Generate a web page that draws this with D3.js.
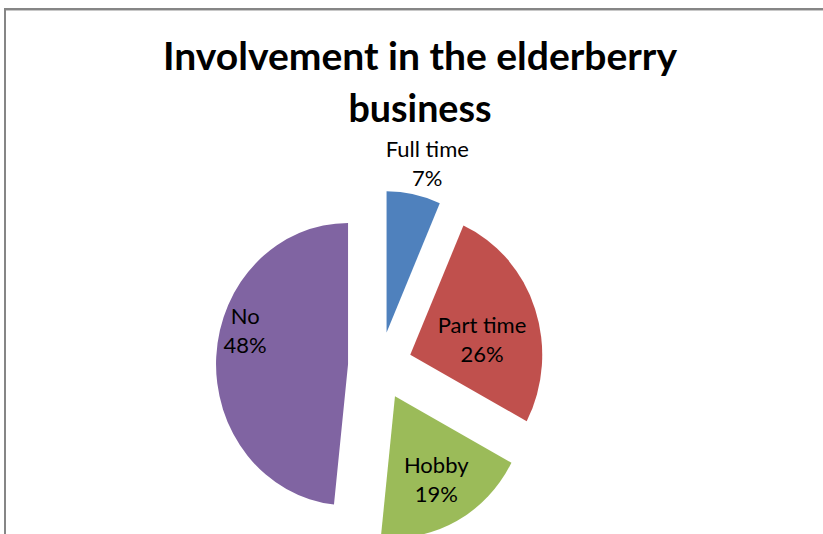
<!DOCTYPE html>
<html>
<head>
<meta charset="utf-8">
<script src="https://cdn.jsdelivr.net/npm/d3@7/dist/d3.min.js"></script>
<style>
  html, body { margin: 0; padding: 0; background: #fff; }
  svg { display: block; }
</style>
</head>
<body>
<svg id="chart" width="823" height="534"></svg>
<script>
// ---- data ----
const categories = ["Full time", "Part time", "Hobby", "No"];
const values = [6.6, 26.2, 18.9, 48.3];
const colors = ["#4F81BD", "#C0504D", "#9BBB59", "#8064A2"];
const titleLines = ["Involvement in the elderberry", "business"];

// ---- layout ----
const W = 823, H = 534;
const cx = 380, cy = 366;
const R = 132;          // horizontal radius
const sy = 1.07;        // vertical stretch of the plot area
const explode = 32;
const labelR = 86;
const labelNudge = [[23, -79], [-9.5, 15], [1, 2.4], [-17, -29]];

const svg = d3.select("#chart");

// frame
svg.append("rect")
  .attr("x", 5).attr("y", 9)
  .attr("width", 1000).attr("height", 1000)
  .attr("fill", "none")
  .attr("stroke", "#868686")
  .attr("stroke-width", 2);
svg.append("line")
  .attr("x1", 6).attr("x2", W).attr("y1", 10.5).attr("y2", 10.5)
  .attr("stroke", "#c8c8c8").attr("stroke-width", 1);

// title
const title = svg.append("text")
  .attr("text-anchor", "middle")
  .attr("font-family", "Lato, 'Open Sans', sans-serif")
  .attr("font-weight", "bold")
  .attr("font-size", 39)
  .attr("fill", "#000");
const titleWidths = [514, 143];
const titleY = [70, 122];
titleLines.forEach((t, i) => {
  title.append("tspan")
    .attr("x", 420).attr("y", titleY[i])
    .attr("textLength", titleWidths[i])
    .attr("lengthAdjust", "spacingAndGlyphs")
    .text(t);
});

// pie
const pie = d3.pie().sort(null).value(d => d)(values);
const arc = d3.arc().innerRadius(0).outerRadius(R);
const labelArc = d3.arc().innerRadius(labelR).outerRadius(labelR);

const g = svg.append("g").attr("transform", `translate(${cx},${cy}) scale(1,${sy})`);

function explodeOffset(d) {
  const a = (d.startAngle + d.endAngle) / 2;
  return [explode * Math.sin(a), -explode * Math.cos(a)];
}

g.selectAll("path")
  .data(pie)
  .join("path")
  .attr("d", arc)
  .attr("fill", (d, i) => colors[i])
  .attr("transform", d => {
    const [dx, dy] = explodeOffset(d);
    return `translate(${dx},${dy})`;
  });

// labels
const total = d3.sum(values);
const lab = svg.append("g")
  .attr("font-family", "Lato, 'Open Sans', sans-serif")
  .attr("font-size", 22)
  .attr("fill", "#000")
  .attr("text-anchor", "middle");

pie.forEach((d, i) => {
  const [ex, ey] = explodeOffset(d);
  const [lx, ly] = labelArc.centroid(d);
  const x = cx + ex + lx + labelNudge[i][0];
  const yc = cy + (ey + ly) * sy + labelNudge[i][1];
  const t = lab.append("text");
  t.append("tspan").attr("x", x).attr("y", yc - 6.5).text(categories[i]);
  t.append("tspan").attr("x", x).attr("y", yc + 22.5)
    .text(Math.round(values[i] / total * 100) + "%");
});
</script>
</body>
</html>
